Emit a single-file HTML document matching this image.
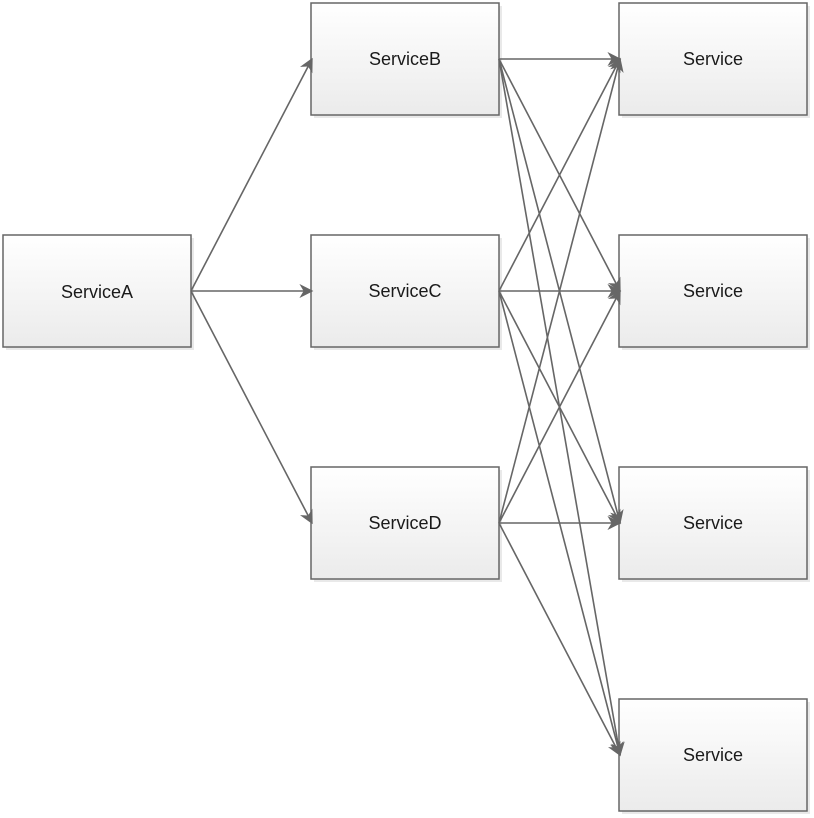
<!DOCTYPE html>
<html><head><style>
html,body{margin:0;padding:0;background:#fff;width:814px;height:818px;overflow:hidden}
text{font-family:"Liberation Sans",Arial,sans-serif;font-size:18px;fill:#1a1a1a}
</style></head><body>
<svg width="814" height="818" viewBox="0 0 814 818" xmlns="http://www.w3.org/2000/svg">
<defs>
<linearGradient id="g" x1="0" y1="0" x2="0" y2="1"><stop offset="0" stop-color="#ffffff"/><stop offset="1" stop-color="#ebebeb"/></linearGradient>
<marker id="a" viewBox="0 0 10 10" refX="9" refY="5" markerWidth="14" markerHeight="14" markerUnits="userSpaceOnUse" orient="auto"><path d="M0,0 L10,5 L0,10 L3,5 Z" fill="#666"/></marker>
</defs>
<g fill="#e0e0e0" opacity="0.7">
<rect x="6" y="238" width="188" height="112"/>
<rect x="314" y="6" width="188" height="112"/>
<rect x="314" y="238" width="188" height="112"/>
<rect x="314" y="470" width="188" height="112"/>
<rect x="622" y="6" width="188" height="112"/>
<rect x="622" y="238" width="188" height="112"/>
<rect x="622" y="470" width="188" height="112"/>
<rect x="622" y="702" width="188" height="112"/>
</g>
<g fill="url(#g)" stroke="#666" stroke-width="1.5">
<rect x="3" y="235" width="188" height="112"/>
<rect x="311" y="3" width="188" height="112"/>
<rect x="311" y="235" width="188" height="112"/>
<rect x="311" y="467" width="188" height="112"/>
<rect x="619" y="3" width="188" height="112"/>
<rect x="619" y="235" width="188" height="112"/>
<rect x="619" y="467" width="188" height="112"/>
<rect x="619" y="699" width="188" height="112"/>
</g>
<g stroke="#666" stroke-width="1.6" fill="none" marker-end="url(#a)">
<line x1="191" y1="291" x2="312" y2="59"/>
<line x1="191" y1="291" x2="312" y2="291"/>
<line x1="191" y1="291" x2="312" y2="523"/>
<line x1="499" y1="59" x2="620" y2="59"/>
<line x1="499" y1="59" x2="620" y2="291"/>
<line x1="499" y1="59" x2="620" y2="523"/>
<line x1="499" y1="59" x2="620" y2="755"/>
<line x1="499" y1="291" x2="620" y2="59"/>
<line x1="499" y1="291" x2="620" y2="291"/>
<line x1="499" y1="291" x2="620" y2="523"/>
<line x1="499" y1="291" x2="620" y2="755"/>
<line x1="499" y1="523" x2="620" y2="59"/>
<line x1="499" y1="523" x2="620" y2="291"/>
<line x1="499" y1="523" x2="620" y2="523"/>
<line x1="499" y1="523" x2="620" y2="755"/>
</g>
<g text-anchor="middle">
<text x="97" y="298">ServiceA</text>
<text x="405" y="65">ServiceB</text>
<text x="405" y="297">ServiceC</text>
<text x="405" y="529">ServiceD</text>
<text x="713" y="65">Service</text>
<text x="713" y="297">Service</text>
<text x="713" y="529">Service</text>
<text x="713" y="761">Service</text>
</g>
</svg>
</body></html>
